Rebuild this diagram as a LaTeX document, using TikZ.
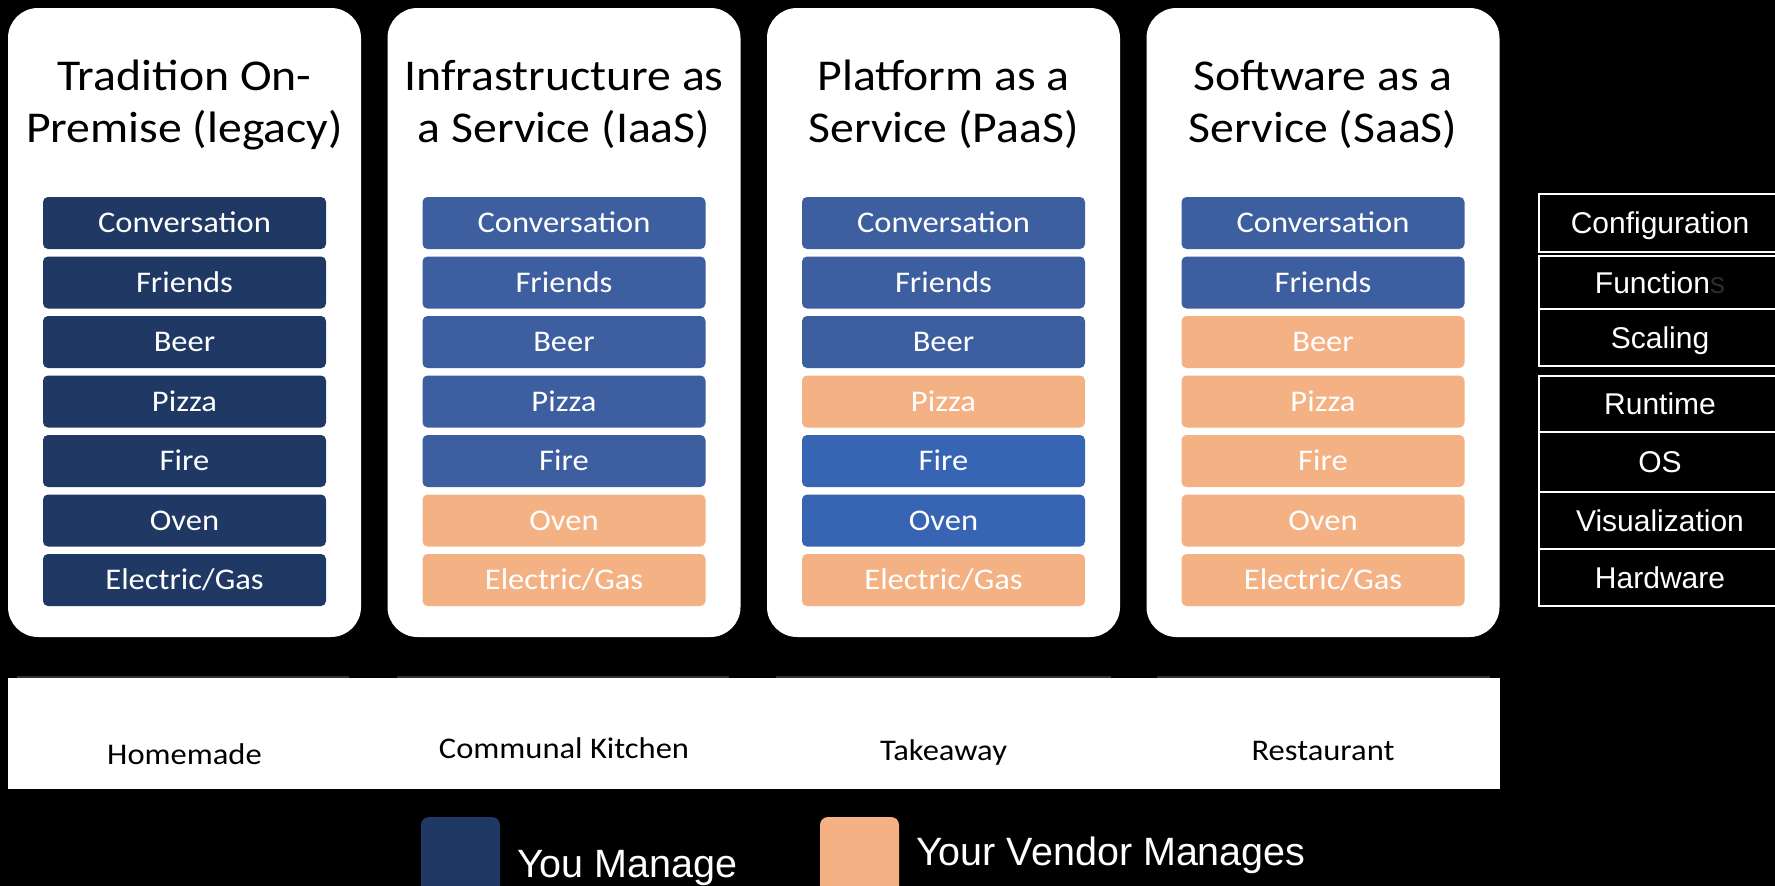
\documentclass[tikz,border=0pt]{standalone}
\usepackage{fontspec}
\setmainfont{Carlito}[FakeStretch=1.085]
\newfontfamily\arialfont{Liberation Sans}
\definecolor{navy}{HTML}{203864}
\definecolor{midblue}{HTML}{3E5F9F}
\definecolor{brightblue}{HTML}{3864B4}
\definecolor{peach}{HTML}{F4B183}
\definecolor{faint}{HTML}{333333}
\definecolor{hiddens}{HTML}{2B2B2B}
\begin{document}
\begin{tikzpicture}[x=1pt,y=-1pt,
  column/.style={fill=white, rounded corners=30pt},
  item/.style={rounded corners=5pt, minimum width=283pt, minimum height=52pt,
    inner sep=0pt, text=white, font=\fontsize{30}{36}\selectfont,
    text height=19.3pt, text depth=0pt},
  title/.style={anchor=base, inner sep=0pt, font=\fontsize{44}{52}\selectfont},
  kind/.style={anchor=base, inner sep=0pt, font=\fontsize{30}{36}\selectfont},
  layer/.style={draw=white, line width=2pt, minimum width=242pt, inner sep=0pt,
    text=white, font=\arialfont\fontsize{30}{35}\selectfont,
    text height=21.5pt, text depth=0pt},
  swatch/.style={rounded corners=8pt},
  legendtext/.style={anchor=base west, inner sep=0pt, text=white,
    font=\arialfont\fontsize{39.5}{45}\selectfont}]
\useasboundingbox (0,0) rectangle (1775,886);
\fill[black] (0,0) rectangle (1775,886);

% four service models
\fill[column] (8,8) rectangle (361,637);
\fill[column] (387.5,8) rectangle (740.5,637);
\fill[column] (767,8) rectangle (1120,637);
\fill[column] (1146.5,8) rectangle (1499.5,637);

\node[title] (t1a) at (184.5,90) {Tradition On-};
\node[title] (t1b) at (184.5,142) {Premise (legacy)};
\node[title] (t2a) at (564,90) {Infrastructure as};
\node[title] (t2b) at (564,142) {a Service (IaaS)};
\node[title] (t3a) at (943.5,90) {Platform as a};
\node[title] (t3b) at (943.5,142) {Service (PaaS)};
\node[title] (t4a) at (1323,90) {Software as a};
\node[title] (t4b) at (1323,142) {Service (SaaS)};

\foreach \lab/\fc [count=\k from 0] in {Conversation/navy,Friends/navy,Beer/navy,
    Pizza/navy,Fire/navy,Oven/navy,{Electric/Gas}/navy}
  \node[item, fill=\fc] (c1-\k) at (184.5,223+59.5*\k) {\lab};
\foreach \lab/\fc [count=\k from 0] in {Conversation/midblue,Friends/midblue,Beer/midblue,
    Pizza/midblue,Fire/midblue,Oven/peach,{Electric/Gas}/peach}
  \node[item, fill=\fc] (c2-\k) at (564,223+59.5*\k) {\lab};
\foreach \lab/\fc [count=\k from 0] in {Conversation/midblue,Friends/midblue,Beer/midblue,
    Pizza/peach,Fire/brightblue,Oven/brightblue,{Electric/Gas}/peach}
  \node[item, fill=\fc] (c3-\k) at (943.5,223+59.5*\k) {\lab};
\foreach \lab/\fc [count=\k from 0] in {Conversation/midblue,Friends/midblue,Beer/peach,
    Pizza/peach,Fire/peach,Oven/peach,{Electric/Gas}/peach}
  \node[item, fill=\fc] (c4-\k) at (1323,223+59.5*\k) {\lab};

% pizza analogy band
\draw[faint, line width=1.2pt] (17,677) -- (349,677) (397,677) -- (729,677)
  (776,677) -- (1111,677) (1157,677) -- (1490,677);
\fill[white] (8,678) rectangle (1500,789);
\node[kind] (k1) at (184.5,764) {Homemade};
\node[kind] (k2) at (564,758) {Communal Kitchen};
\node[kind] (k3) at (943.5,760) {Takeaway};
\node[kind] (k4) at (1323,760) {Restaurant};

% cloud stack layers
\node[layer, minimum height=58pt] (l1) at (1660,223) {Configuration};
\node[layer, minimum height=53pt] (l2) at (1660,282.5) {Function{\color{hiddens}s}};
\node[layer, minimum height=57pt] (l3) at (1660,337.5) {Scaling};
\node[layer, minimum height=56pt] (l4) at (1660,404) {Runtime};
\node[layer, minimum height=60pt] (l5) at (1660,462) {OS};
\node[layer, minimum height=57pt] (l6) at (1660,520.5) {Visualization};
\node[layer, minimum height=57pt] (l7) at (1660,577.5) {Hardware};

% legend
\fill[swatch, navy] (421,817) rectangle (500,900);
\node[legendtext] (you) at (517,877) {You Manage};
\fill[swatch, peach] (820,817) rectangle (899,900);
\node[legendtext] (vendor) at (916,865) {Your Vendor Manages};
\end{tikzpicture}
\end{document}
